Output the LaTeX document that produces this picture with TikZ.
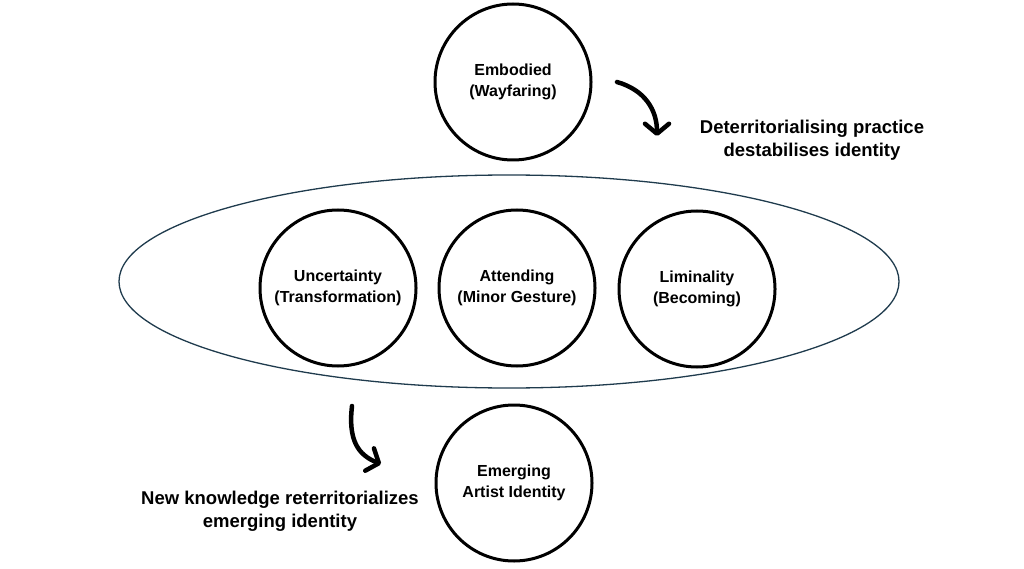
\documentclass[tikz,border=0pt]{standalone}
\usepackage{fontspec}
\setmainfont{Liberation Sans}
\usetikzlibrary{arrows.meta,shapes.geometric}

\definecolor{hullblue}{HTML}{1F3B4D}

\begin{document}
\begin{tikzpicture}[x=1pt, y=-1pt,
		stage/.style={circle, draw, line width=3pt, minimum size=156pt, inner sep=0pt, align=center, font=\bfseries\fontsize{16}{21}\selectfont},
		hull/.style={ellipse, draw=hullblue, line width=1.3pt, minimum width=780pt, minimum height=213pt, inner sep=0pt},
		caption/.style={align=center, font=\bfseries\fontsize{18.5}{23}\selectfont},
		swoop/.style={line width=4.5pt, line cap=round, -{Straight Barb[length=10pt, width=24pt, round]}}]
		\useasboundingbox (0, 0) rectangle (1024, 569);

		\node[hull] (field) at (509, 281.5) {};

		\node[stage] (embodied) at (513, 82) {Embodied\\(Wayfaring)};
		\node[stage] (uncertainty) at (338, 288) {Uncertainty\\(Transformation)};
		\node[stage] (attending) at (517, 288) {Attending\\(Minor Gesture)};
		\node[stage] (liminality) at (697, 289) {Liminality\\(Becoming)};
		\node[stage] (emerging) at (514, 483) {Emerging\\Artist Identity};

		\node[caption] (deterr) at (812, 140) {Deterritorialising practice\\destabilises identity};
		\node[caption] (reterr) at (280, 511) {New knowledge reterritorializes\\emerging identity};

		% free arrows
		\coordinate (deterr from) at (617, 82);
		\coordinate (deterr to) at (657, 136);
		\coordinate (reterr from) at (352, 406);
		\coordinate (reterr to) at (381, 464);

		\draw[swoop] (deterr from) .. controls (645, 90) and (657, 110) .. (deterr to);
		\draw[swoop] (reterr from) .. controls (348, 440) and (358, 455) .. (reterr to);
\end{tikzpicture}
\end{document}
